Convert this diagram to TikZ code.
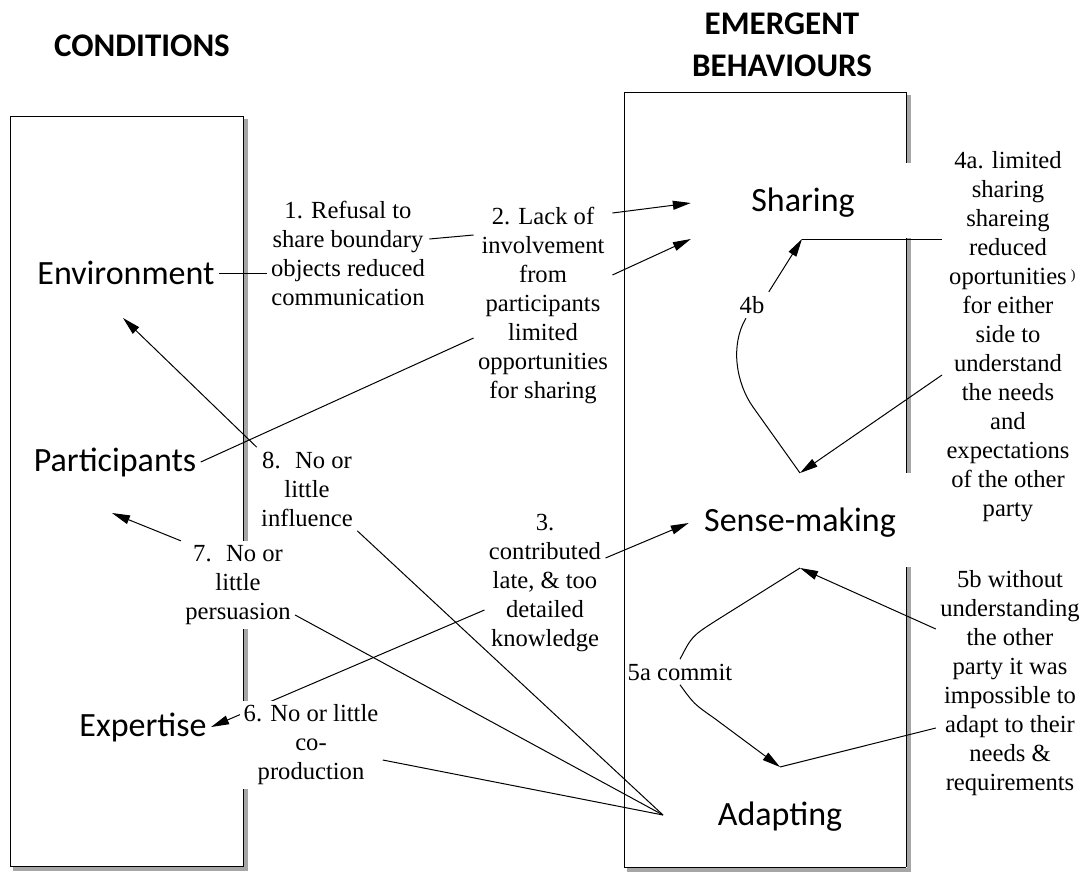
\documentclass[tikz,border=0pt]{standalone}
\usepackage{fontspec}
\setmainfont{Liberation Serif}
\newfontfamily\calib{Carlito}
\usetikzlibrary{arrows.meta}

\begin{document}
\begin{tikzpicture}[x=0.5pt,y=-0.5pt,line width=0.5pt,
    >={Triangle[length=9pt,width=4.5pt]},
    heading/.style={font=\calib\bfseries\fontsize{16.5}{21}\selectfont,align=center},
    elem/.style={font=\calib\fontsize{17}{20}\selectfont,inner sep=2pt},
    lbl/.style={font=\fontsize{12.3}{14.5}\selectfont,align=center,inner sep=2pt},
    boxshadow/.style={draw=gray!70,line width=2pt}]
  \useasboundingbox (0,0) rectangle (1088,873);
  \node[heading] (cond) at (142,46) {CONDITIONS};
  \node[heading] (emerg) at (782,45) {EMERGENT\\BEHAVIOURS};
  % left box
  \draw[boxshadow] (246,119) -- (246,869) -- (13,869);
  \draw (10,116) rectangle (243,866);
  % right box, its right edge broken
  \draw[boxshadow] (909,95) -- (909,163);
  \draw[boxshadow] (909,238) -- (909,473);
  \draw[boxshadow] (909,567) -- (909,870) -- (627,870);
  \draw (906,92) -- (624,92) -- (624,867) -- (906,867);
  \draw (906,92) -- (906,163);
  \draw (906,238) -- (906,473);
  \draw (906,567) -- (906,867);
  % conditions and behaviours
  \node[elem] (env) at (126,273) {Environment};
  \node[elem] (part) at (115,462) {Participants};
  \node[elem] (expert) at (143,727) {Expertise};
  \node[elem] (share) at (803,203) {Sharing};
  \node[elem] (sense) at (800,523) {Sense-making};
  \node[elem] (adapt) at (780,817) {Adapting};
  \coordinate (envpt) at (123,318);
  \coordinate (partpt) at (112,513);
  \coordinate (shtip) at (802,239);
  \coordinate (smtop) at (800,473);
  \coordinate (smbot) at (800,568);
  \coordinate (adtop) at (780,767);
  \coordinate (adleft) at (663,815);
  % labels
  \node[lbl] (lab1) at (348,253) {1. Refusal to\\share boundary\\objects reduced\\communication};
  \node[lbl] (lab2) at (543,305) {2. Lack of\\involvement\\from\\participants\\limited\\opportunities\\for sharing};
  \node[lbl] (lab3) at (545,583) {3.\\contributed\\late, \& too\\detailed\\knowledge};
  \node[lbl] (lab4a) at (1008,337) {4a. limited\\sharing\\shareing\\reduced\\oportunities\rlap{\,\raisebox{.5ex}{\scriptsize )}}\\for either\\side to\\understand\\the needs\\and\\expectations\\of the other\\party};
  \node[lbl] (lab4b) at (752,305) {4b};
  \node[lbl] (lab5a) at (680,672) {5a commit};
  \node[lbl] (lab5b) at (1010,683) {5b without\\understanding\\the other\\party it was\\impossible to\\adapt to their\\needs \&\\requirements};
  \node[lbl] (lab8) at (307,489) {8.~ No or\\little\\influence};
  % connectors
  \draw (env.east) -- (lab1.west |- env.east);
  \draw ([shift={(0,-14)}]lab1.east) -- ([shift={(0,-70)}]lab2.west);
  \draw[->] ([shift={(0,-92)}]lab2.east) -- ([shift={(-56,0)}]share.west);
  \draw[->] ([shift={(0,-30)}]lab2.east) -- ([shift={(-56,36)}]share.west);
  \draw (part.east) -- ([shift={(0,33)}]lab2.west);
  \draw[->] ([shift={(0,-25)}]lab3.east) -- ([shift={(-11,0)}]sense.west);
  \draw[->] ([shift={(0,27)}]lab3.west) -- (expert.east);
  \draw[->] (lab8.north west) -- (envpt);
  \draw (lab8.south east) -- (adleft);
  % 4a and 4b
  \draw (shtip) -- (lab4a.west |- shtip);
  \draw[->] ([shift={(0,38)}]lab4a.west) -- (smtop);
  \draw (smtop) -- (753,407) .. controls (736,383) and (730,345) .. ([shift={(-6,0)}]lab4b.south);
  \draw[->] (lab4b.north east) -- (shtip);
  % 5a and 5b
  \draw[->] ([shift={(0,-54)}]lab5b.west) -- (smbot);
  \draw (adtop) -- ([shift={(0,45)}]lab5b.west);
  \draw (lab5a.north) .. controls (692,636) .. (717,620) -- (smbot);
  \draw[->] (lab5a.south) .. controls (694,704) .. (714,718) -- (adtop);
  % labels lying on the box edge
  \node[lbl,fill=white] (lab7) at (238,585) {7.~ No or\\little\\persuasion};
  \node[lbl,fill=white] (lab6) at (311,745) {6. No or little\\co-\\production};
  \draw[->] (lab7.north west) -- (partpt);
  \draw ([shift={(0,30)}]lab7.east) -- (adleft);
  \draw ([shift={(0,15)}]lab6.east) -- (adleft);
\end{tikzpicture}
\end{document}
